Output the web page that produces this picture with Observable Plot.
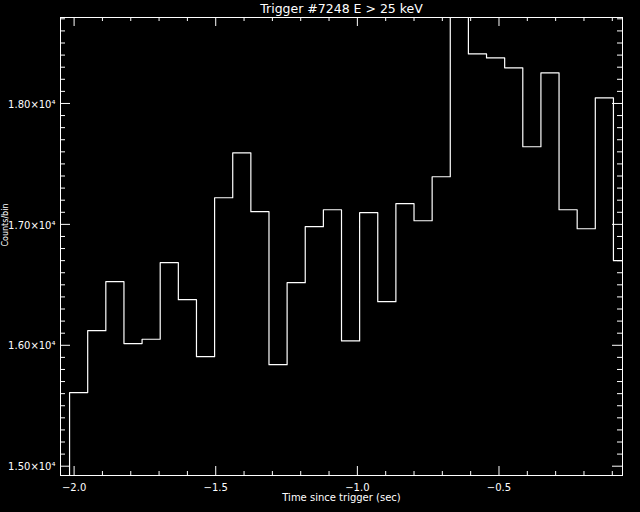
<!DOCTYPE html>
<html>
<head>
<meta charset="utf-8">
<script src="https://cdn.jsdelivr.net/npm/d3@7"></script>
<script src="https://cdn.jsdelivr.net/npm/@observablehq/plot@0.6"></script>
<style>
  html, body { margin: 0; padding: 0; background: #000; }
</style>
</head>
<body>
<div id="chart"></div>
<script>
// Bin centre times (s) of the 64 ms samples
const times = [-2.048, -1.984, -1.920, -1.856, -1.792, -1.728, -1.664, -1.600,
  -1.536, -1.472, -1.408, -1.344, -1.280, -1.216, -1.152, -1.088,
  -1.024, -0.960, -0.896, -0.832, -0.768, -0.704, -0.640, -0.576,
  -0.512, -0.448, -0.384, -0.320, -0.256, -0.192, -0.128, -0.064];
// Counts per bin (first and 23rd values run off the plot and are clipped)
const counts = [14850, 15609, 16121, 16526, 16014, 16050, 16683, 16377,
  15906, 17220, 17592, 17105, 15840, 16518, 16981, 17121,
  16036, 17097, 16361, 17171, 17030, 17394, 18900, 18410,
  18377, 18295, 17642, 18253, 17121, 16964, 18047, 16700];

const xMajorTicks = [-2.0, -1.5, -1.0, -0.5];
const xMinorTicks = [-1.9, -1.8, -1.7, -1.6, -1.4, -1.3, -1.2, -1.1, -0.9, -0.8, -0.7, -0.6, -0.4, -0.3, -0.2, -0.1];
const yMajorTicks = [15000, 16000, 17000, 18000];
const yMinorTicks = d3.range(15100, 18800, 100).filter(v => v % 1000 !== 0);

const titleText = "Trigger #7248 E > 25 keV";
const xTitle = "Time since trigger (sec)";
const yTitle = "Counts/bin";

const data = times.map((t, i) => ({t, c: counts[i]}));

const W = 640, H = 512;
const mL = 60, mR = 18, mT = 17, mB = 37;
const fw = W - mL - mR, fh = H - mT - mB;
const font = "DejaVu Sans, sans-serif";

const chart = Plot.plot({
  width: W,
  height: H,
  marginLeft: mL,
  marginRight: mR,
  marginTop: mT,
  marginBottom: mB,
  style: {background: "#000", color: "#fff", fontFamily: font},
  x: {domain: [-2.048, -0.064], axis: null},
  y: {domain: [14923, 18711], axis: null},
  marks: [
    Plot.frame({stroke: "#fff", strokeWidth: 1}),
    // bottom / top x ticks (inward)
    Plot.tickX(xMajorTicks, {x: d => d, insetTop: fh - 9, stroke: "#fff"}),
    Plot.tickX(xMinorTicks, {x: d => d, insetTop: fh - 4, stroke: "#fff"}),
    Plot.tickX(xMajorTicks, {x: d => d, insetBottom: fh - 9, stroke: "#fff"}),
    Plot.tickX(xMinorTicks, {x: d => d, insetBottom: fh - 4, stroke: "#fff"}),
    // left / right y ticks (inward)
    Plot.tickY(yMajorTicks, {y: d => d, insetRight: fw - 10, stroke: "#fff"}),
    Plot.tickY(yMinorTicks, {y: d => d, insetRight: fw - 5, stroke: "#fff"}),
    Plot.tickY(yMajorTicks, {y: d => d, insetLeft: fw - 10, stroke: "#fff"}),
    Plot.tickY(yMinorTicks, {y: d => d, insetLeft: fw - 5, stroke: "#fff"}),
    // histogram-style step line
    Plot.line(data, {x: "t", y: "c", curve: "step", stroke: "#fff", strokeWidth: 1.2, clip: true}),
    // tick labels
    Plot.text(yMajorTicks, {y: d => d, frameAnchor: "left", dx: -5, dy: 1, textAnchor: "end",
      text: d => (d / 1e4).toFixed(2) + "×10⁴", fill: "#fff", fontSize: 10}),
    Plot.text(xMajorTicks, {x: d => d, frameAnchor: "bottom", dy: 12, lineAnchor: "middle",
      text: d => "−" + Math.abs(d).toFixed(1), fill: "#fff", fontSize: 10}),
    // titles
    Plot.text([xTitle], {text: d => d, frameAnchor: "bottom", dy: 22, lineAnchor: "middle", fill: "#fff", fontSize: 10}),
    Plot.text([titleText], {text: d => d, frameAnchor: "top", dy: -8.5, lineAnchor: "middle", fill: "#fff", fontSize: 12.5}),
    Plot.text([yTitle], {text: d => d, frameAnchor: "left", dx: -55, rotate: -90, lineAnchor: "middle", fill: "#fff", fontSize: 8})
  ]
});
document.getElementById("chart").appendChild(chart);
</script>
</body>
</html>
